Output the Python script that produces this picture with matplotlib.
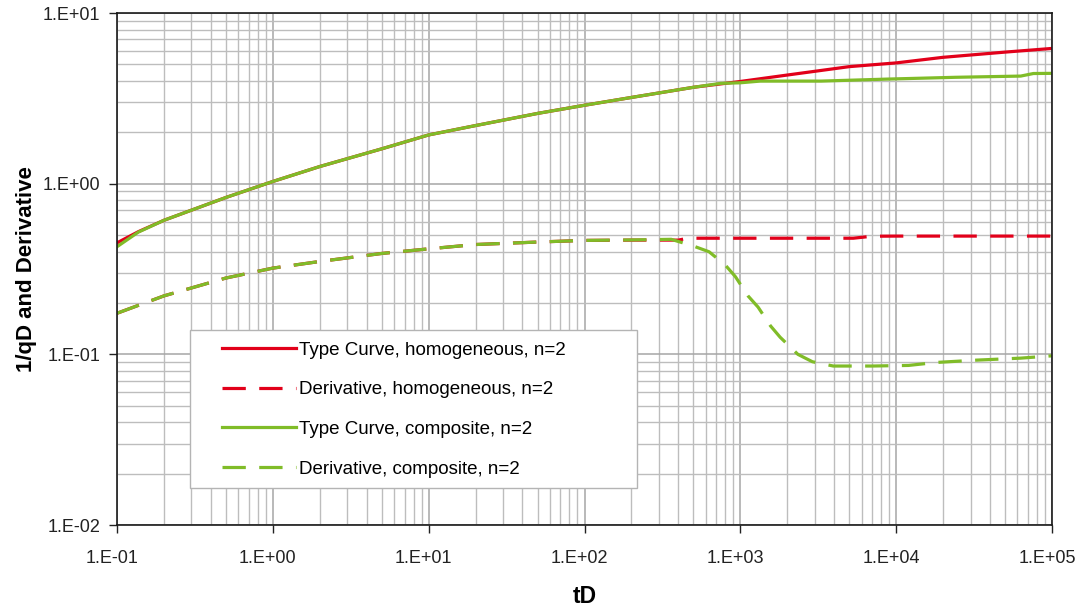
import matplotlib.pyplot as plt
from matplotlib.ticker import FuncFormatter, LogLocator, NullFormatter
from matplotlib.patches import Rectangle
from matplotlib.transforms import ScaledTranslation
import numpy as np

plt.rcParams['font.family'] = ['Liberation Sans', 'DejaVu Sans']

# type curve, homogeneous
t_tc_h = [0.1, 0.137, 0.2, 0.5, 1, 2, 5, 10, 20, 50, 100, 200, 500, 1000, 2000, 5000, 1e4, 2e4, 5e4, 1e5]
tc_h = [0.45, 0.523, 0.61, 0.83, 1.03, 1.26, 1.60, 1.93, 2.19, 2.58, 2.88, 3.2, 3.67, 3.97, 4.33, 4.85, 5.1, 5.5, 5.9, 6.2]

# derivative, homogeneous
t_der_h = [0.1, 0.2, 0.5, 1, 2, 5, 10, 20, 50, 100, 200, 400, 460, 1000, 2000, 5300, 7000, 1e4, 2e4, 5e4, 1e5]
der_h = [0.174, 0.22, 0.28, 0.32, 0.35, 0.39, 0.415, 0.44, 0.455, 0.465, 0.467, 0.467, 0.479, 0.479, 0.479,
         0.479, 0.492, 0.493, 0.493, 0.493, 0.493]

# type curve, composite
t_tc_c = [0.1, 0.137, 0.2, 0.5, 1, 2, 5, 10, 20, 50, 100, 200, 500, 750, 1000, 1340, 3300, 8800, 2.4e4, 6.3e4,
          7.6e4, 1e5]
tc_c = [0.427, 0.52, 0.61, 0.83, 1.03, 1.26, 1.60, 1.93, 2.19, 2.58, 2.88, 3.2, 3.67, 3.87, 3.9, 3.99, 3.99, 4.10,
        4.20, 4.27, 4.42, 4.43]

# derivative, composite
t_der_c = [0.1, 0.2, 0.5, 1, 2, 5, 10, 20, 50, 100, 200, 360, 500, 630, 800, 930, 1120, 1300, 1560, 1800, 2340,
           2900, 3950, 7000, 1.2e4, 1.8e4, 3.3e4, 6.3e4, 1e5]
der_c = [0.174, 0.22, 0.28, 0.32, 0.35, 0.39, 0.415, 0.44, 0.455, 0.465, 0.468, 0.472, 0.431, 0.399, 0.334, 0.285,
         0.220, 0.189, 0.147, 0.126, 0.100, 0.0905, 0.0854, 0.0854, 0.0861, 0.0896, 0.0925, 0.095, 0.098]

xticks = [1e-1, 1e0, 1e1, 1e2, 1e3, 1e4, 1e5]
yticks = [1e-2, 1e-1, 1e0, 1e1]

red = '#e2001a'
green = '#80bc28'

fig = plt.figure(figsize=(10.79, 6.07), dpi=100)
ax = fig.add_axes([117 / 1079, 1 - 525 / 607, 935 / 1079, 512 / 607])

lw = 2.3
dash = (7.3, 4.2)
ax.plot(t_tc_h, tc_h, color=red, lw=lw, label='Type Curve, homogeneous, n=2')
ax.plot(t_der_h, der_h, color=red, lw=lw, dashes=dash, label='Derivative, homogeneous, n=2')
ax.plot(t_tc_c, tc_c, color=green, lw=lw, label='Type Curve, composite, n=2')
ax.plot(t_der_c, der_c, color=green, lw=lw, dashes=dash, label='Derivative, composite, n=2')

ax.set_xscale('log')
ax.set_yscale('log')
ax.set_xlim(0.1, 1e5)
ax.set_ylim(0.01, 10)


def exp_fmt(v, pos):
    e = int(round(np.log10(v)))
    return f'1.E{e:+03d}'


ax.set_xticks(xticks)
ax.set_yticks(yticks)
for a in (ax.xaxis, ax.yaxis):
    a.set_minor_locator(LogLocator(base=10, subs=np.arange(2, 10), numticks=20))
    a.set_major_formatter(FuncFormatter(exp_fmt))
    a.set_minor_formatter(NullFormatter())

ax.grid(True, which='major', color='#a6a6a6', lw=1.1)
ax.grid(True, which='minor', color='#bdbdbd', lw=1.0)
ax.set_axisbelow(True)

ax.tick_params(which='major', direction='out', length=6, width=1, labelsize=13, colors='#222222')
ax.tick_params(axis='x', which='major', pad=12)
ax.tick_params(axis='y', which='major', pad=6)
ax.tick_params(which='minor', length=0)
for s in ax.spines.values():
    s.set_color('#1a1a1a')
    s.set_linewidth(1.2)

# x tick labels sit a little left of their ticks
shift = ScaledTranslation(-5 / 100, 0, fig.dpi_scale_trans)
for lab in ax.get_xticklabels():
    lab.set_transform(lab.get_transform() + shift)

ax.set_xlabel('tD', fontsize=16.5, fontweight='bold', labelpad=13)
ax.set_ylabel('1/qD and Derivative', fontsize=16, fontweight='bold', labelpad=4)

# legend frame drawn separately to match the wide box
box = Rectangle((73 / 935, 37 / 512), 447 / 935, 158 / 512, transform=ax.transAxes,
                facecolor='white', edgecolor='#b4b4b4', lw=1.0, zorder=4)
ax.add_patch(box)
leg = ax.legend(loc='upper left', bbox_to_anchor=(99 / 935, 189 / 512), frameon=False, fontsize=13.5,
                handlelength=3.95, handletextpad=0.16, labelspacing=1.2, borderpad=0.3, borderaxespad=0)
leg.set_zorder(5)

fig.savefig('out.png', dpi=100)
